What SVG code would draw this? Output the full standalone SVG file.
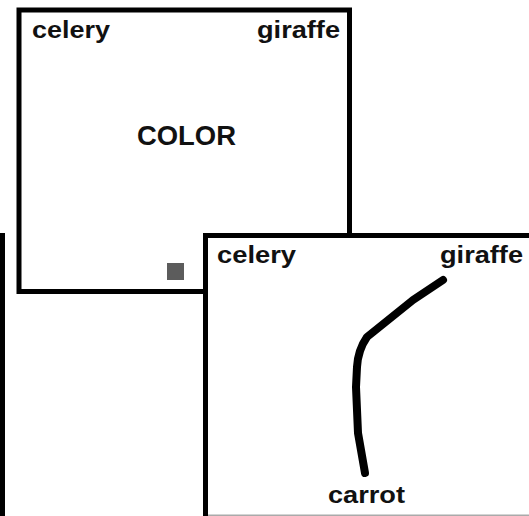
<svg xmlns="http://www.w3.org/2000/svg" width="529" height="516" viewBox="0 0 529 516">
<style>
.frame{fill:#fff;stroke:#000;stroke-width:5}
.lbl{font-family:"Liberation Sans",Arial,Helvetica,sans-serif;font-weight:bold;font-size:24px;fill:#111}
.big{font-size:27px}
.stroke{fill:none;stroke:#000;stroke-width:8;stroke-linecap:round;stroke-linejoin:round}
</style>
<rect width="529" height="516" fill="#fff"/>
<g id="panel-left">
<rect class="frame" x="-20" y="235.5" width="22.5" height="300"/>
</g>
<g id="panel-color">
<rect class="frame" x="19" y="10" width="330.5" height="281.5"/>
<text class="lbl" x="32" y="38" textLength="78" lengthAdjust="spacingAndGlyphs">celery</text>
<text class="lbl" x="257" y="38" textLength="83" lengthAdjust="spacingAndGlyphs">giraffe</text>
<text class="lbl big" x="137" y="145" textLength="99" lengthAdjust="spacingAndGlyphs">COLOR</text>
<rect x="167" y="263" width="17" height="17" fill="#5c5c5c"/>
</g>
<g id="panel-drawn">
<rect class="frame" x="205.5" y="235.5" width="340" height="300"/>
<line x1="208" y1="515.2" x2="529" y2="515.2" stroke="#aaa" stroke-width="1.5"/>
<text class="lbl" x="217" y="263" textLength="79" lengthAdjust="spacingAndGlyphs">celery</text>
<text class="lbl" x="440" y="263" textLength="83" lengthAdjust="spacingAndGlyphs">giraffe</text>
<text class="lbl" x="328" y="503" textLength="77" lengthAdjust="spacingAndGlyphs">carrot</text>
</g>
<g id="connectors">
<path class="stroke" d="M443,280 L413,300 L367,337 Q358,350 357,367 L356,387 L358,433 L365,473"/>
</g>
</svg>
